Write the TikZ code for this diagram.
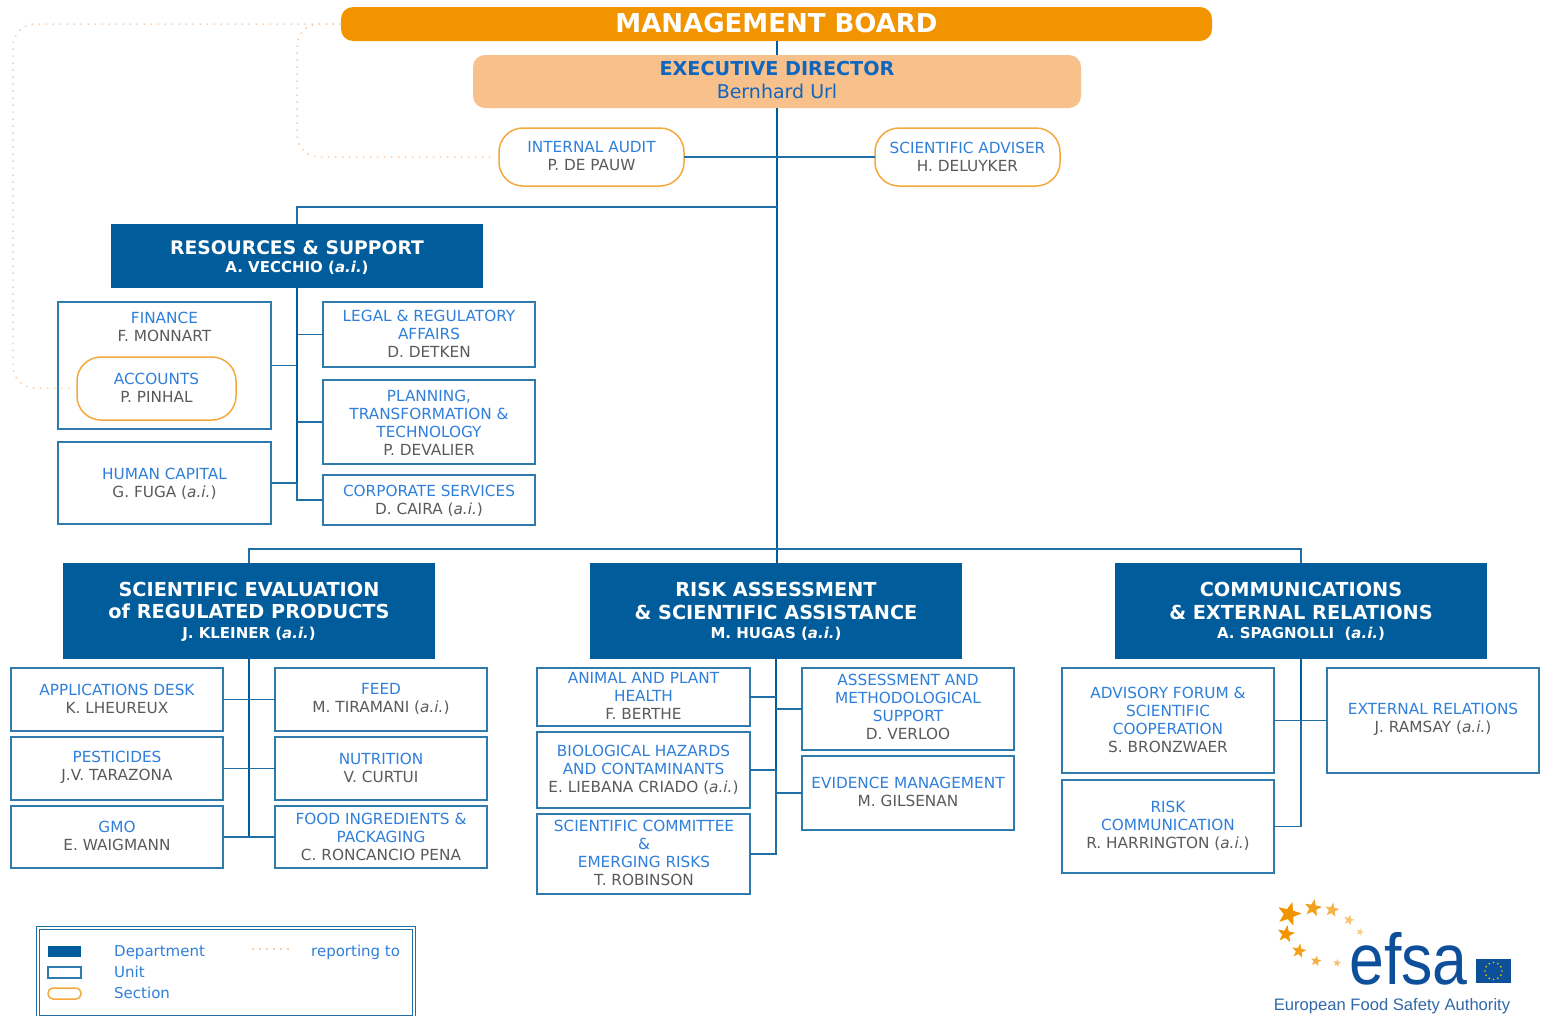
\documentclass[tikz,border=0pt]{standalone}
\usepackage{fontspec}
\setmainfont{DejaVu Sans}
\newfontfamily\logofont{Liberation Sans}
\usetikzlibrary{shapes.geometric,calc}
\definecolor{deptblue}{HTML}{005C9A}
\definecolor{linkblue}{HTML}{1F6EA6}
\definecolor{unitblue}{HTML}{2F7BAE}
\definecolor{titleblue}{HTML}{2F7FDB}
\definecolor{edblue}{HTML}{0F66BE}
\definecolor{persongrey}{HTML}{5A5A5A}
\definecolor{boardorange}{HTML}{F29400}
\definecolor{edorange}{HTML}{F8C08A}
\definecolor{secorange}{HTML}{F5A83C}
\definecolor{dotorange}{HTML}{FACDA8}
\definecolor{logoblue}{HTML}{0E4F9A}
\newcommand{\who}[1]{{\color{persongrey}#1}}
\newcommand{\ai}{\textit{a.i.}}
% name, x0, y0, x1, y1, style
\newcommand{\bx}[6]{\node[#6,minimum width=#4-#2,minimum height=#5-#3] (#1) at ({(#2+#4)/2},{(#3+#5)/2}) {};}
% name, cx, cy, style, text
\newcommand{\tx}[5]{\node[#4] (#1) at (#2,#3) {#5};}
\tikzset{
 unitbox/.style={draw=unitblue,line width=1.4pt,fill=white,inner sep=0pt,outer sep=0pt},
 secbox/.style={draw=secorange,line width=1.5pt,fill=white,rounded corners=24pt,inner sep=0pt,outer sep=0pt},
 deptbox/.style={fill=deptblue,inner sep=0pt,outer sep=0pt},
 unittext/.style={align=center,text=titleblue,inner sep=0pt,font=\fontsize{15.3}{18}\selectfont},
 depttext/.style={align=center,text=white,inner sep=0pt,font=\fontsize{18.7}{22.5}\selectfont\bfseries},
 bigdepttext/.style={depttext,font=\fontsize{19.3}{22.5}\selectfont\bfseries},
 legendtext/.style={text=titleblue,inner sep=0pt,anchor=base west,font=\fontsize{15}{18}\selectfont},
 conn/.style={draw=linkblue,line width=1.5pt},
 trunk/.style={draw=deptblue,line width=2pt},
 dotline/.style={draw=dotorange,line width=1.5pt,dash pattern=on 1.5pt off 5.5pt,rounded corners=22pt,shorten >=5pt},
 starshape/.style={star,star points=5,star point ratio=2.4,inner sep=0pt,draw=none},
}
\newcommand{\subt}[1]{{\fontsize{15}{18}\selectfont #1}}
\begin{document}
\begin{tikzpicture}[x=1pt,y=-1pt]
\useasboundingbox (0,0) rectangle (1544,1015);
\fill[white] (0,0) rectangle (1544,1015);

\coordinate (rsbus) at (777,207);
\coordinate (deptbus) at (777,549);
\coordinate (dotA) at (297,24);
\coordinate (dotB) at (297,157);
\coordinate (dotC) at (13,24);
\coordinate (dotD) at (13,388);

% boxes
\bx{mb}{341}{7}{1212}{41}{fill=boardorange,rounded corners=12pt,inner sep=0pt,outer sep=0pt}
\bx{ed}{473}{55}{1081}{108}{fill=edorange,rounded corners=12pt,inner sep=0pt,outer sep=0pt}
\bx{audit}{499}{128}{684}{186}{secbox}
\bx{adviser}{875}{128}{1060}{186}{secbox}
\bx{rs}{111}{224}{483}{288}{deptbox}
\bx{finance}{58}{302}{271}{429}{unitbox}
\bx{accounts}{77}{357}{236}{420}{secbox}
\bx{hc}{58}{442}{271}{524}{unitbox}
\bx{legal}{323}{302}{535}{367}{unitbox}
\bx{planning}{323}{380}{535}{464}{unitbox}
\bx{corp}{323}{475}{535}{525}{unitbox}
\bx{se}{63}{563}{435}{659}{deptbox}
\bx{ra}{590}{563}{962}{659}{deptbox}
\bx{ce}{1115}{563}{1487}{659}{deptbox}
\bx{apps}{11}{668}{223}{731}{unitbox}
\bx{pest}{11}{737}{223}{800}{unitbox}
\bx{gmo}{11}{806}{223}{868}{unitbox}
\bx{feed}{275}{668}{487}{731}{unitbox}
\bx{nutr}{275}{737}{487}{800}{unitbox}
\bx{food}{275}{806}{487}{868}{unitbox}
\bx{animal}{537}{668}{750}{726}{unitbox}
\bx{bio}{537}{732}{750}{808}{unitbox}
\bx{comm}{537}{814}{750}{894}{unitbox}
\bx{assess}{802}{668}{1014}{750}{unitbox}
\bx{evid}{802}{756}{1014}{830}{unitbox}
\bx{forum}{1062}{668}{1274}{773}{unitbox}
\bx{rcomm}{1062}{780}{1274}{873}{unitbox}
\bx{ext}{1327}{668}{1539}{773}{unitbox}

% connectors
\draw[trunk] (mb.south) -- (mb.south |- ed.north);
\draw[trunk] (ed.south) -- (ed.south |- ra.north);
\draw[conn] (audit.east) -- (adviser.west);
\draw[conn] (rsbus) -- (rsbus -| rs.north) -- (rs.north);
\draw[conn] (se.north) -- (se.north |- deptbus) -- (ce.north |- deptbus) -- (ce.north);
\draw[trunk] (rs.south) -- (hc.east -| rs.south);
\draw[conn] (hc.east -| rs.south) -- (corp.west -| rs.south) -- (corp.west);
\draw[conn] (finance.east) -- (finance.east -| rs.south);
\draw[conn] (hc.east) -- (hc.east -| rs.south);
\draw[conn] (legal.west) -- (legal.west -| rs.south);
\draw[conn] (planning.west) -- (planning.west -| rs.south);
\draw[trunk] (se.south) -- (food.west -| se.south);
\draw[conn] (apps.east) -- (apps.east -| se.south);
\draw[conn] (pest.east) -- (pest.east -| se.south);
\draw[conn] (gmo.east) -- (gmo.east -| se.south);
\draw[conn] (feed.west) -- (feed.west -| se.south);
\draw[conn] (nutr.west) -- (nutr.west -| se.south);
\draw[conn] (food.west) -- (food.west -| se.south);
\draw[trunk] (ra.south) -- (bio.east -| ra.south);
\draw[conn] (bio.east -| ra.south) -- (comm.east -| ra.south) -- (comm.east);
\draw[conn] (animal.east) -- (animal.east -| ra.south);
\draw[conn] (bio.east) -- (bio.east -| ra.south);
\draw[conn] (assess.west) -- (assess.west -| ra.south);
\draw[conn] (evid.west) -- (evid.west -| ra.south);
\draw[trunk] (ce.south) -- (ext.west -| ce.south);
\draw[conn] (ext.west -| ce.south) -- (rcomm.east -| ce.south) -- (rcomm.east);
\draw[conn] (forum.east) -- (ext.west);

% reporting lines
\draw[dotline] (mb.west) -- (dotA) -- (dotB) -- (audit.west);
\draw[dotline] (mb.west) -- (dotC) -- (dotD) -- (accounts.west);

% texts
\tx{mbt}{776.5}{23}{align=center,text=white,inner sep=0pt,font=\fontsize{26}{28}\selectfont\bfseries}{MANAGEMENT BOARD}
\tx{edt}{777}{80.5}{align=center,text=edblue,inner sep=0pt,font=\fontsize{19.2}{23}\selectfont\bfseries}{EXECUTIVE DIRECTOR\\{\fontsize{19}{23}\selectfont\mdseries Bernhard Url}}
\tx{auditt}{591.5}{156.5}{unittext}{INTERNAL AUDIT\\\who{P. DE PAUW}}
\tx{advisert}{967.5}{156.5}{unittext}{SCIENTIFIC ADVISER\\\who{H. DELUYKER}}
\tx{rst}{297}{257.5}{depttext}{RESOURCES \& SUPPORT\\[-5pt]\subt{A. VECCHIO (\ai)}}
\tx{fint}{164.5}{327}{unittext}{FINANCE\\\who{F. MONNART}}
\tx{acct}{156.5}{388}{unittext}{ACCOUNTS\\\who{P. PINHAL}}
\tx{hct}{164.5}{484}{unittext}{HUMAN CAPITAL\\\who{G. FUGA (\ai)}}
\tx{legalt}{429}{334}{unittext}{LEGAL \& REGULATORY\\AFFAIRS\\\who{D. DETKEN}}
\tx{plant}{429}{422.5}{unittext}{PLANNING,\\TRANSFORMATION \&\\TECHNOLOGY\\\who{P. DEVALIER}}
\tx{corpt}{429}{501}{unittext}{CORPORATE SERVICES\\\who{D. CAIRA (\ai)}}
\tx{set}{249}{611.5}{bigdepttext}{SCIENTIFIC EVALUATION\\of REGULATED PRODUCTS\\[-3pt]\subt{J. KLEINER (\ai)}}
\tx{rat}{776}{611.5}{bigdepttext}{RISK ASSESSMENT\\\& SCIENTIFIC ASSISTANCE\\[-3pt]\subt{M. HUGAS (\ai)}}
\tx{cet}{1301}{611.5}{bigdepttext}{COMMUNICATIONS\\\& EXTERNAL RELATIONS\\[-3pt]\subt{A. SPAGNOLLI\ \ (\ai)}}
\tx{appst}{117}{698.5}{unittext}{APPLICATIONS DESK\\\who{K. LHEUREUX}}
\tx{pestt}{117}{767.5}{unittext}{PESTICIDES\\\who{J.V. TARAZONA}}
\tx{gmot}{117}{836}{unittext}{GMO\\\who{E. WAIGMANN}}
\tx{feedt}{381}{698.5}{unittext}{FEED\\\who{M. TIRAMANI (\ai)}}
\tx{nutrt}{381}{767.5}{unittext}{NUTRITION\\\who{V. CURTUI}}
\tx{foodt}{381}{836.5}{unittext}{FOOD INGREDIENTS \&\\PACKAGING\\\who{C. RONCANCIO PENA}}
\tx{animalt}{643.5}{696}{unittext}{ANIMAL AND PLANT\\HEALTH\\\who{F. BERTHE}}
\tx{biot}{643.5}{769.5}{unittext}{BIOLOGICAL HAZARDS\\AND CONTAMINANTS\\\who{E. LIEBANA CRIADO (\ai)}}
\tx{commt}{644}{853}{unittext}{SCIENTIFIC COMMITTEE\\\&\\EMERGING RISKS\\\who{T. ROBINSON}}
\tx{assesst}{908}{707}{unittext}{ASSESSMENT AND\\METHODOLOGICAL\\SUPPORT\\\who{D. VERLOO}}
\tx{evidt}{908}{792}{unittext}{EVIDENCE MANAGEMENT\\\who{M. GILSENAN}}
\tx{forumt}{1168}{719.5}{unittext}{ADVISORY FORUM \&\\SCIENTIFIC\\COOPERATION\\\who{S. BRONZWAER}}
\tx{rcommt}{1168}{826}{unittext}{RISK\\COMMUNICATION\\\who{R. HARRINGTON (\ai)}}
\tx{extt}{1433}{719.5}{unittext}{EXTERNAL RELATIONS\\\who{J. RAMSAY (\ai)}}

% legend
\bx{legend}{38}{928}{414}{1017}{draw=linkblue,line width=1pt,double=white,double distance=1.5pt,fill=white,inner sep=0pt,outer sep=0pt}
\bx{lgdept}{48}{946}{81}{957}{deptbox}
\bx{lgunit}{48}{967}{81}{978}{unitbox}
\bx{lgsec}{48}{988}{81}{999}{draw=secorange,line width=1.5pt,rounded corners=5pt,fill=white,inner sep=0pt,outer sep=0pt}
\node[legendtext] (lgdeptt) at (114,956) {Department};
\node[legendtext] (lgunitt) at (114,977) {Unit};
\node[legendtext] (lgsect) at (114,998) {Section};
\node[legendtext] (lgrept) at (311,956) {reporting to};
\coordinate (lgdotA) at (252,949);
\coordinate (lgdotB) at (290,949);
\draw[draw=dotorange,line width=1.2pt,dash pattern=on 1.5pt off 5.5pt] (lgdotA) -- (lgdotB);

% logo
\node[starshape,fill=boardorange,minimum size=25pt,rotate=-15] (s1) at (1289,914) {};
\node[starshape,fill=boardorange!90,minimum size=18pt,rotate=-10] (s2) at (1313,908) {};
\node[starshape,fill=boardorange!70,minimum size=15pt,rotate=-10] (s3) at (1332,910) {};
\node[starshape,fill=boardorange!55,minimum size=11pt,rotate=-15] (s4) at (1349,920) {};
\node[starshape,fill=boardorange!45,minimum size=8pt,rotate=-20] (s5) at (1360,932) {};
\node[starshape,fill=boardorange,minimum size=18pt,rotate=-10] (s6) at (1286,934) {};
\node[starshape,fill=boardorange!90,minimum size=15pt,rotate=-10] (s7) at (1299,951) {};
\node[starshape,fill=boardorange!75,minimum size=11pt,rotate=-10] (s8) at (1316,961) {};
\node[starshape,fill=boardorange!60,minimum size=8pt,rotate=-10] (s9) at (1337,963) {};
\node[text=logoblue,inner sep=0pt,anchor=base,font=\logofont\fontsize{72}{72}\selectfont] (efsa) at (1408.5,984) {\scalebox{0.87}[1]{efsa}};
\bx{flag}{1476}{959}{1511}{983}{fill=logoblue,inner sep=0pt,outer sep=0pt}
\foreach \a in {0,30,...,330} \fill[yellow!70!olive] ($(flag.center)+(\a:8.5)$) circle (0.9);
\node[text=logoblue!85!white,inner sep=0pt,font=\logofont\fontsize{16.6}{20}\selectfont] (efsat) at (1392,1006) {European Food Safety Authority};
\end{tikzpicture}
\end{document}
